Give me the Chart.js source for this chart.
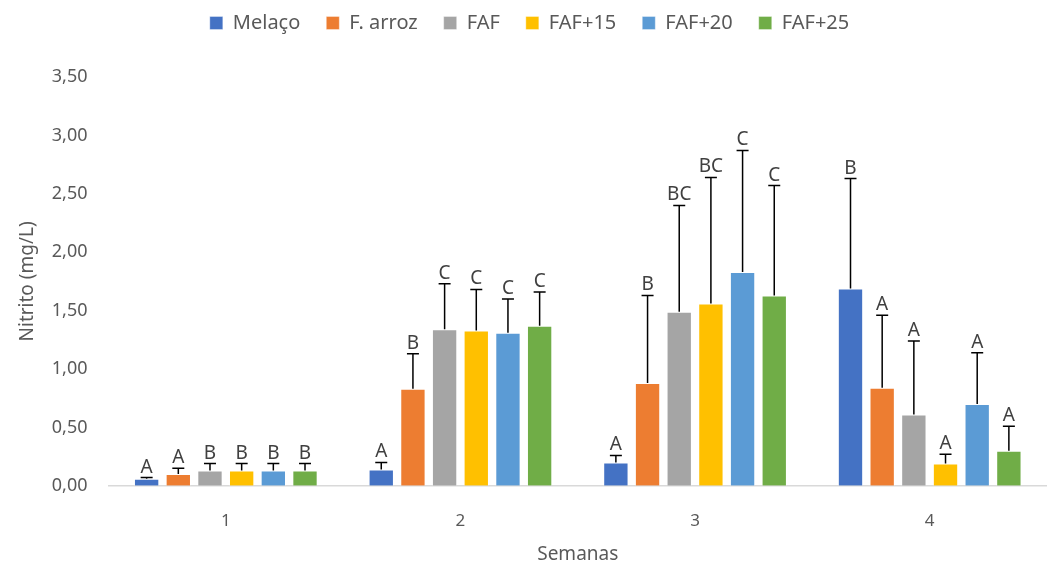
<!DOCTYPE html>
<html>
<head>
<meta charset="utf-8">
<script src="https://cdn.jsdelivr.net/npm/chart.js@4"></script>
<style>
  html, body { margin: 0; padding: 0; background: #fff; }
  #wrap { width: 1047px; height: 564px; }
</style>
</head>
<body>
<div id="wrap"><canvas id="chart"></canvas></div>
<script>
// Nitrito por semana — barras agrupadas com desvio (só para cima) e letras
const semanas = ['1', '2', '3', '4'];
const tratamentos = ['Melaço', 'F. arroz', 'FAF', 'FAF+15', 'FAF+20', 'FAF+25'];
const cores = ['#4472C4', '#ED7D31', '#A5A5A5', '#FFC000', '#5B9BD5', '#70AD47'];

const melaco = [0.06, 0.14, 0.20, 1.69];
const fArroz = [0.10, 0.83, 0.88, 0.84];
const faf = [0.13, 1.34, 1.49, 0.61];
const faf15 = [0.13, 1.33, 1.56, 0.19];
const faf20 = [0.13, 1.31, 1.83, 0.70];
const faf25 = [0.13, 1.37, 1.63, 0.30];

const dpMelaco = [0.01, 0.06, 0.06, 0.94];
const dpFArroz = [0.05, 0.30, 0.75, 0.62];
const dpFaf = [0.06, 0.39, 0.91, 0.63];
const dpFaf15 = [0.06, 0.35, 1.08, 0.08];
const dpFaf20 = [0.06, 0.29, 1.04, 0.44];
const dpFaf25 = [0.06, 0.29, 0.94, 0.21];

const letrasMelaco = ['A', 'A', 'A', 'B'];
const letrasFArroz = ['A', 'B', 'B', 'A'];
const letrasFaf = ['B', 'C', 'BC', 'A'];
const letrasFaf15 = ['B', 'C', 'BC', 'A'];
const letrasFaf20 = ['B', 'C', 'C', 'A'];
const letrasFaf25 = ['B', 'C', 'C', 'A'];

const yTicks = [0, 0.5, 1, 1.5, 2, 2.5, 3, 3.5];

const valores = [melaco, fArroz, faf, faf15, faf20, faf25];
const desvios = [dpMelaco, dpFArroz, dpFaf, dpFaf15, dpFaf20, dpFaf25];
const letras = [letrasMelaco, letrasFArroz, letrasFaf, letrasFaf15, letrasFaf20, letrasFaf25];

const fonte = "'Noto Sans', 'Open Sans', sans-serif";
const cinza = '#595959';

// desenha a barra de erro e a letra acima de cada barra
const errorBars = {
    id: 'errorBars',
    afterDatasetsDraw(chart) {
        const ctx = chart.ctx;
        const y = chart.scales.y;
        ctx.save();
        chart.data.datasets.forEach((ds, i) => {
            const meta = chart.getDatasetMeta(i);
            meta.data.forEach((bar, j) => {
                const v = ds.data[j];
                const top = y.getPixelForValue(v + ds.sd[j]);
                const base = y.getPixelForValue(v);
                ctx.strokeStyle = '#000';
                ctx.lineWidth = 1.5;
                ctx.beginPath();
                ctx.moveTo(bar.x, base);
                ctx.lineTo(bar.x, top);
                ctx.moveTo(bar.x - 6, top);
                ctx.lineTo(bar.x + 6, top);
                ctx.stroke();
                ctx.fillStyle = '#404040';
                ctx.font = '19px ' + fonte;
                ctx.textAlign = 'center';
                ctx.textBaseline = 'bottom';
                ctx.fillText(ds.letters[j], bar.x, top - 1);
            });
        });
        ctx.restore();
    }
};

// espaço extra entre a legenda e o gráfico
const legendGap = {
    id: 'legendGap',
    beforeInit(chart) {
        const fit = chart.legend.fit;
        chart.legend.fit = function () {
            fit.bind(chart.legend)();
            this.height += 34;
        };
    }
};

new Chart(document.getElementById('chart'), {
    type: 'bar',
    data: {
        labels: semanas,
        datasets: tratamentos.map((t, i) => ({
            label: t,
            data: valores[i],
            sd: desvios[i],
            letters: letras[i],
            backgroundColor: cores[i],
            borderColor: 'rgba(255,255,255,0.35)',
            borderWidth: 1,
            barPercentage: 0.8,
            categoryPercentage: 0.81
        }))
    },
    options: {
        responsive: true,
        maintainAspectRatio: false,
        animation: false,
        layout: { padding: { left: 12, right: 0, top: -13, bottom: -2 } },
        scales: {
            y: {
                min: 0,
                max: 3.5,
                afterBuildTicks: axis => { axis.ticks = yTicks.map(v => ({ value: v })); },
                ticks: {
                    color: cinza,
                    font: { family: fonte, size: 18 },
                    padding: 13,
                    callback: v => v.toFixed(2).replace('.', ',')
                },
                grid: { display: false },
                border: { display: false },
                title: {
                    display: true,
                    text: 'Nitrito (mg/L)',
                    color: cinza,
                    font: { family: fonte, size: 19 },
                    padding: { bottom: 0 }
                }
            },
            x: {
                ticks: { color: cinza, font: { family: fonte, size: 17 }, padding: 17 },
                grid: { display: false },
                border: { display: true, color: '#D9D9D9', width: 1.5 },
                title: {
                    display: true,
                    text: 'Semanas',
                    color: cinza,
                    font: { family: fonte, size: 19 },
                    padding: { top: -5, bottom: 0 }
                }
            }
        },
        plugins: {
            legend: {
                position: 'top',
                labels: {
                    color: cinza,
                    font: { family: fonte, size: 20 },
                    boxWidth: 13,
                    boxHeight: 13,
                    padding: 26
                }
            },
            tooltip: { enabled: false }
        }
    },
    plugins: [errorBars, legendGap]
});
</script>
</body>
</html>
